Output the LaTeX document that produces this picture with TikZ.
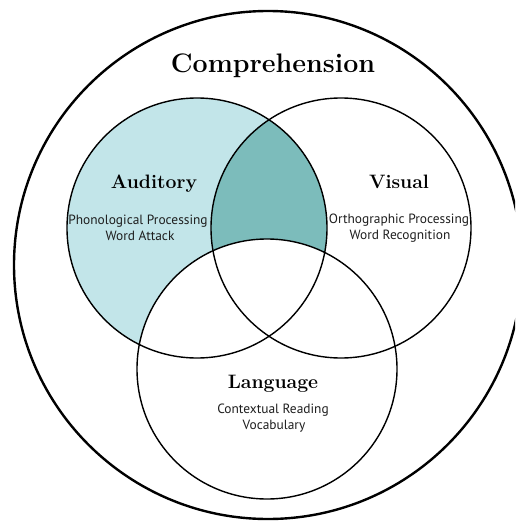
\documentclass[tikz,border=0pt]{standalone}
\usepackage{fontspec}
\newfontfamily\labelfont{PT Sans}
\definecolor{audfill}{RGB}{194,229,233}
\definecolor{lensfill}{RGB}{124,188,187}
\definecolor{labelgray}{RGB}{30,30,30}
\begin{document}
\begin{tikzpicture}[x=1pt,y=-1pt,
  ring/.style={draw=black,line width=1.4pt},
  outerring/.style={draw=black,line width=2.4pt},
  headtext/.style={anchor=base,inner sep=0pt,font=\fontsize{19.4}{21}\selectfont\bfseries},
  titletext/.style={anchor=base,inner sep=0pt,font=\fontsize{26.8}{28}\selectfont\bfseries},
  subtext/.style={anchor=base,inner sep=0pt,text=labelgray,font=\labelfont\fontsize{13.4}{15}\selectfont}]
\useasboundingbox (0,0) rectangle (515,522);
\clip (0,0) rectangle (515,522);
\coordinate (cO) at (268,265);
\coordinate (cA) at (197,228);
\coordinate (cV) at (341,228);
\coordinate (cL) at (267,369);
% fills
\fill[audfill] (cA) circle[radius=130];
\begin{scope}
  \clip (cA) circle[radius=130];
  \fill[lensfill] (cV) circle[radius=130];
\end{scope}
\fill[white] (cL) circle[radius=130];
% outlines
\draw[ring] (cA) circle[radius=130];
\draw[ring] (cV) circle[radius=130];
\draw[ring] (cL) circle[radius=130];
\draw[outerring] (cO) circle[radius=254];
% texts
\node[titletext] (title) at (273,72) {Comprehension};
\node[headtext] (aud) at (154,188) {Auditory};
\node[subtext] (aud1) at (138,224) {Phonological Processing};
\node[subtext] (aud2) at (140,240) {Word Attack};
\node[headtext] (vis) at (399,188) {Visual};
\node[subtext] (vis1) at (399,223) {Orthographic Processing};
\node[subtext] (vis2) at (400,239) {Word Recognition};
\node[headtext] (lang) at (273,388) {Language};
\node[subtext] (lang1) at (273,413) {Contextual Reading};
\node[subtext] (lang2) at (274,429) {Vocabulary};
\end{tikzpicture}
\end{document}
